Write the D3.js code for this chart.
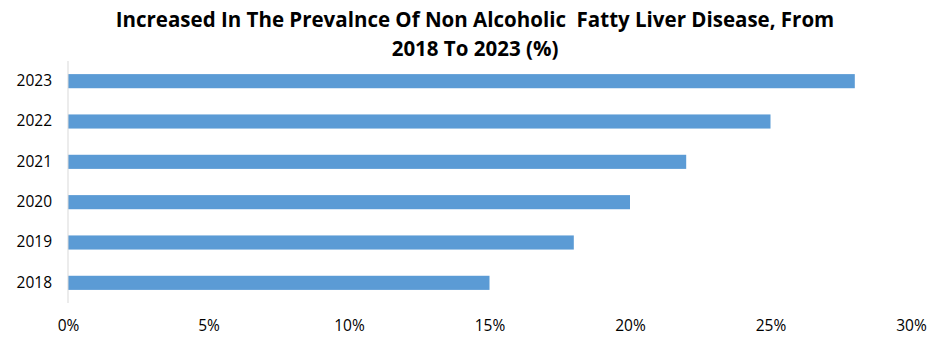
<!DOCTYPE html>
<html><head><meta charset="utf-8">
<script src="https://cdn.jsdelivr.net/npm/d3@7"></script>
<style>
body{margin:0;background:#fff;}
text{font-family:"Open Sans",sans-serif;}
</style></head>
<body><svg id="c" width="952" height="347"></svg>
<script>
const titleLines = ["Increased In The Prevalnce Of Non Alcoholic  Fatty Liver Disease, From", "2018 To 2023 (%)"];
const years = ["2023","2022","2021","2020","2019","2018"];
const values = [28,25,22,20,18,15];
const xTicks = [0,5,10,15,20,25,30];

const svg = d3.select("#c");
const x = d3.scaleLinear().domain([0,30]).range([68,911]);
const y = d3.scaleBand().domain(years).range([61,303]).paddingInner(0.65).paddingOuter(0.325);

svg.append("g").selectAll("text").data(titleLines).join("text")
  .attr("x",475).attr("y",(d,i)=>27+i*29).attr("text-anchor","middle")
  .attr("font-size",20.5).attr("font-weight","bold").attr("fill","#000")
  .attr("xml:space","preserve").text(d=>d);

svg.append("g").selectAll("rect").data(values).join("rect")
  .attr("x",x(0)).attr("y",(d,i)=>y(years[i])).attr("width",d=>x(d)-x(0))
  .attr("height",y.bandwidth()).attr("fill","#5B9BD5");

svg.append("line").attr("x1",x(0)).attr("x2",x(0)).attr("y1",61).attr("y2",303)
  .attr("stroke","#D9D9D9").attr("stroke-width",1);

const yAxis = svg.append("g").attr("transform",`translate(${x(0)},0)`)
  .call(d3.axisLeft(y).tickSize(0).tickPadding(16));
yAxis.select(".domain").remove();
yAxis.selectAll("text").attr("font-size",15.5).attr("fill","#000").attr("font-family","'Open Sans',sans-serif");

const xAxis = svg.append("g").attr("transform","translate(0,312)")
  .call(d3.axisBottom(x).tickValues(xTicks).tickFormat(d=>d+"%").tickSize(0).tickPadding(8));
xAxis.select(".domain").remove();
xAxis.selectAll("text").attr("font-size",15.5).attr("fill","#000").attr("font-family","'Open Sans',sans-serif");
</script></body></html>
